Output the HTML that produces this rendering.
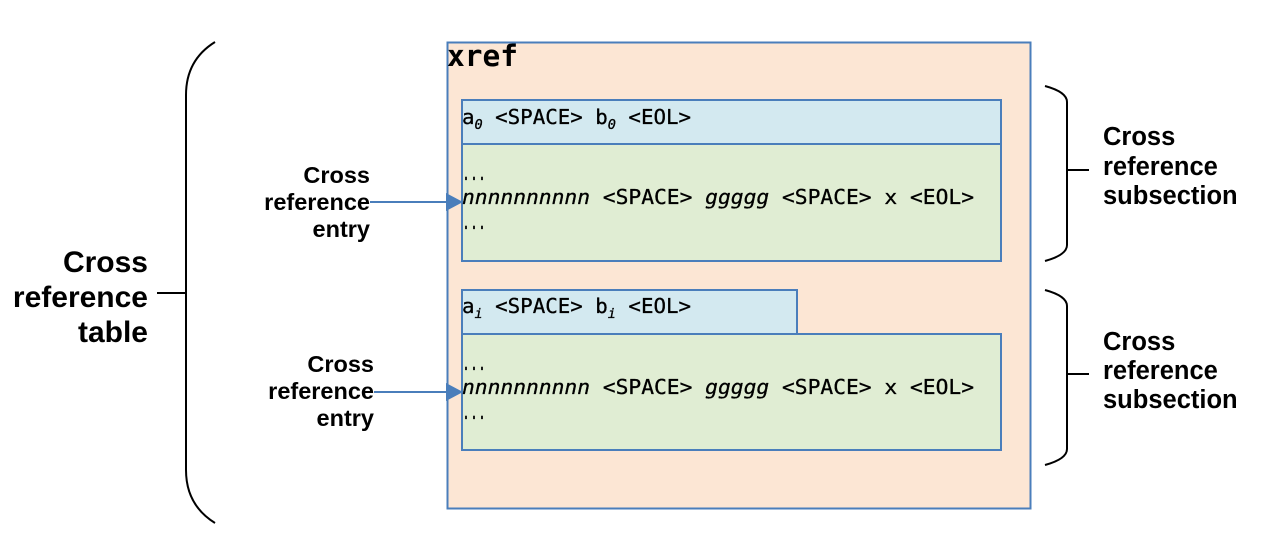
<!DOCTYPE html>
<html><head><meta charset="utf-8"><style>html,body{margin:0;padding:0;background:#fff}</style></head>
<body>
<svg width="1265" height="544" xmlns="http://www.w3.org/2000/svg">
<rect x="0" y="0" width="1265" height="544" fill="#fff"/>
<rect x="447.5" y="42.5" width="583" height="466" fill="#fce6d4" stroke="#4a7ebb" stroke-width="2"/>
<rect x="462" y="100" width="539" height="44" fill="#d3e9f0" stroke="#4a7ebb" stroke-width="2"/>
<rect x="462" y="144" width="539" height="117" fill="#e0edd3" stroke="#4a7ebb" stroke-width="2"/>
<rect x="462" y="290" width="335" height="44" fill="#d3e9f0" stroke="#4a7ebb" stroke-width="2"/>
<rect x="462" y="334" width="539" height="116" fill="#e0edd3" stroke="#4a7ebb" stroke-width="2"/>
<g font-family="DejaVu Sans Mono, Liberation Mono, monospace" fill="#000" stroke="#000" stroke-width="0.3">
<text x="447" y="66" font-size="29" font-weight="bold" textLength="71" lengthAdjust="spacingAndGlyphs" stroke="none">xref</text>
<text x="462" y="124" font-size="20" textLength="229" lengthAdjust="spacingAndGlyphs">a<tspan font-size="13" dy="5" font-style="italic">0</tspan><tspan dy="-5"> &lt;SPACE&gt; b</tspan><tspan font-size="13" dy="5" font-style="italic">0</tspan><tspan dy="-5"> &lt;EOL&gt;</tspan></text>
<text x="462" y="180" font-size="20" textLength="24" lengthAdjust="spacingAndGlyphs">...</text>
<text x="462" y="204" font-size="20" textLength="512" lengthAdjust="spacingAndGlyphs"><tspan font-style="italic">nnnnnnnnnn</tspan> &lt;SPACE&gt; <tspan font-style="italic">ggggg</tspan> &lt;SPACE&gt; x &lt;EOL&gt;</text>
<text x="462" y="229" font-size="20" textLength="24" lengthAdjust="spacingAndGlyphs">...</text>
<text x="462" y="313" font-size="20" textLength="229" lengthAdjust="spacingAndGlyphs">a<tspan font-size="13" dy="5" font-style="italic">i</tspan><tspan dy="-5"> &lt;SPACE&gt; b</tspan><tspan font-size="13" dy="5" font-style="italic">i</tspan><tspan dy="-5"> &lt;EOL&gt;</tspan></text>
<text x="462" y="370" font-size="20" textLength="24" lengthAdjust="spacingAndGlyphs">...</text>
<text x="462" y="394" font-size="20" textLength="512" lengthAdjust="spacingAndGlyphs"><tspan font-style="italic">nnnnnnnnnn</tspan> &lt;SPACE&gt; <tspan font-style="italic">ggggg</tspan> &lt;SPACE&gt; x &lt;EOL&gt;</text>
<text x="462" y="419" font-size="20" textLength="24" lengthAdjust="spacingAndGlyphs">...</text>
</g>
<g stroke="#4a7ebb" stroke-width="2" fill="#4a7ebb">
<line x1="370" y1="202" x2="448" y2="202"/>
<polygon points="446,193 463,202 446,211" stroke="none"/>
<line x1="374" y1="392" x2="448" y2="392"/>
<polygon points="446,383 463,392 446,401" stroke="none"/>
</g>
<g stroke="#000" stroke-width="2" fill="none">
<path d="M215,42 Q186,60 186,95 L186,470 Q186,505 215,523"/>
<line x1="157" y1="293" x2="186" y2="293"/>
<path d="M1045,86 Q1067,92 1067,102 L1067,245 Q1067,255 1045,261"/>
<line x1="1067" y1="170" x2="1089" y2="170"/>
<path d="M1045,290 Q1067,296 1067,306 L1067,449 Q1067,459 1045,465"/>
<line x1="1067" y1="374" x2="1089" y2="374"/>
</g>
<g font-family="Liberation Sans, Arial, sans-serif" font-weight="bold" fill="#000">
<g font-size="30" text-anchor="end">
<text x="148" y="272">Cross</text><text x="148" y="307">reference</text><text x="148" y="342">table</text>
</g>
<g font-size="23.5" text-anchor="end">
<text x="370" y="183">Cross</text><text x="370" y="210">reference</text><text x="370" y="237">entry</text>
<text x="374" y="372">Cross</text><text x="374" y="399">reference</text><text x="374" y="426">entry</text>
</g>
<g font-size="25.5">
<text x="1103" y="145">Cross</text><text x="1103" y="175">reference</text><text x="1103" y="204">subsection</text>
<text x="1103" y="350">Cross</text><text x="1103" y="379">reference</text><text x="1103" y="408">subsection</text>
</g>
</g>
</svg>
</body></html>
